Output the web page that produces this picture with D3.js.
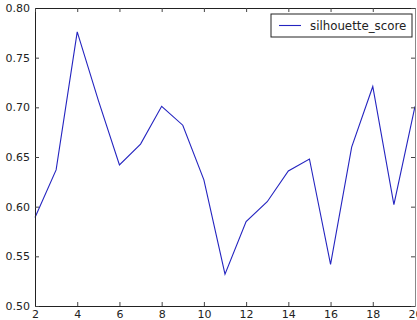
<!DOCTYPE html>
<html>
<head>
<meta charset="utf-8">
<script src="https://cdn.jsdelivr.net/npm/d3@7"></script>
<style>
  body { margin: 0; background: #fff; }
  svg { display: block; }
  text { font-family: "DejaVu Sans", sans-serif; fill: #222; }
</style>
</head>
<body>
<svg id="chart"></svg>
<script>
const clusters = [2, 3, 4, 5, 6, 7, 8, 9, 10, 11, 12, 13, 14, 15, 16, 17, 18, 19, 20]
const silhouette_score = [0.589, 0.637, 0.776, 0.707, 0.642, 0.663, 0.701, 0.682, 0.627, 0.532,
  0.585, 0.605, 0.636, 0.648, 0.542, 0.660, 0.721, 0.602, 0.701]
const xTicks = [2, 4, 6, 8, 10, 12, 14, 16, 18, 20]
const yTicks = [0.50, 0.55, 0.60, 0.65, 0.70, 0.75, 0.80]
const seriesName = "silhouette_score"

const width = 417, height = 320
const margin = { left: 35, top: 8, right: 2, bottom: 14 }

const svg = d3.select('#chart')
  .attr('width', width)
  .attr('height', height)

var x = d3.scaleLinear()
  .domain([2, 20])
  .range([margin.left, width - margin.right])

var y = d3.scaleLinear()
  .domain([0.5, 0.8])
  .range([height - margin.bottom, margin.top])

// line
var line = d3.line()
  .x((d, i) => x(clusters[i]))
  .y(d => y(d))

svg.append('path')
  .datum(silhouette_score)
  .attr('fill', 'none')
  .attr('stroke', '#2424c0')
  .attr('stroke-width', 1.1)
  .attr('d', line)

// axes, ticks point inward like matplotlib
var bottom = svg.append('g')
  .attr('transform', 'translate(0,' + y(0.5) + ')')
  .call(d3.axisBottom(x).tickValues(xTicks).tickSizeInner(-4).tickSizeOuter(0).tickPadding(4))
var left = svg.append('g')
  .attr('transform', 'translate(' + x(2) + ',0)')
  .call(d3.axisLeft(y).tickValues(yTicks).tickFormat(d3.format('.2f')).tickSizeInner(-4).tickSizeOuter(0).tickPadding(5))
var top = svg.append('g')
  .attr('transform', 'translate(0,' + y(0.8) + ')')
  .call(d3.axisTop(x).tickValues(xTicks).tickSizeInner(-4).tickSizeOuter(0).tickFormat(''))
var right = svg.append('g')
  .attr('transform', 'translate(' + x(20) + ',0)')
  .call(d3.axisRight(y).tickValues(yTicks).tickSizeInner(-4).tickSizeOuter(0).tickFormat(''))

svg.selectAll('.domain').attr('stroke', '#222')
svg.selectAll('.tick line').attr('stroke', '#444')
svg.selectAll('.tick text').style('font-size', '11px').attr('fill', '#222')
right.select('.domain').attr('stroke', '#888')

// legend
var legend = svg.append('g')
  .attr('transform', 'translate(271,14)')
legend.append('rect')
  .attr('width', 141)
  .attr('height', 23)
  .attr('fill', '#fff')
  .attr('stroke', '#222')
legend.append('line')
  .attr('x1', 8).attr('x2', 30)
  .attr('y1', 11.5).attr('y2', 11.5)
  .attr('stroke', '#2424c0')
  .attr('stroke-width', 1.1)
legend.append('text')
  .attr('x', 39)
  .attr('y', 16)
  .style('font-size', '11.8px')
  .text(seriesName)
</script>
</body>
</html>
